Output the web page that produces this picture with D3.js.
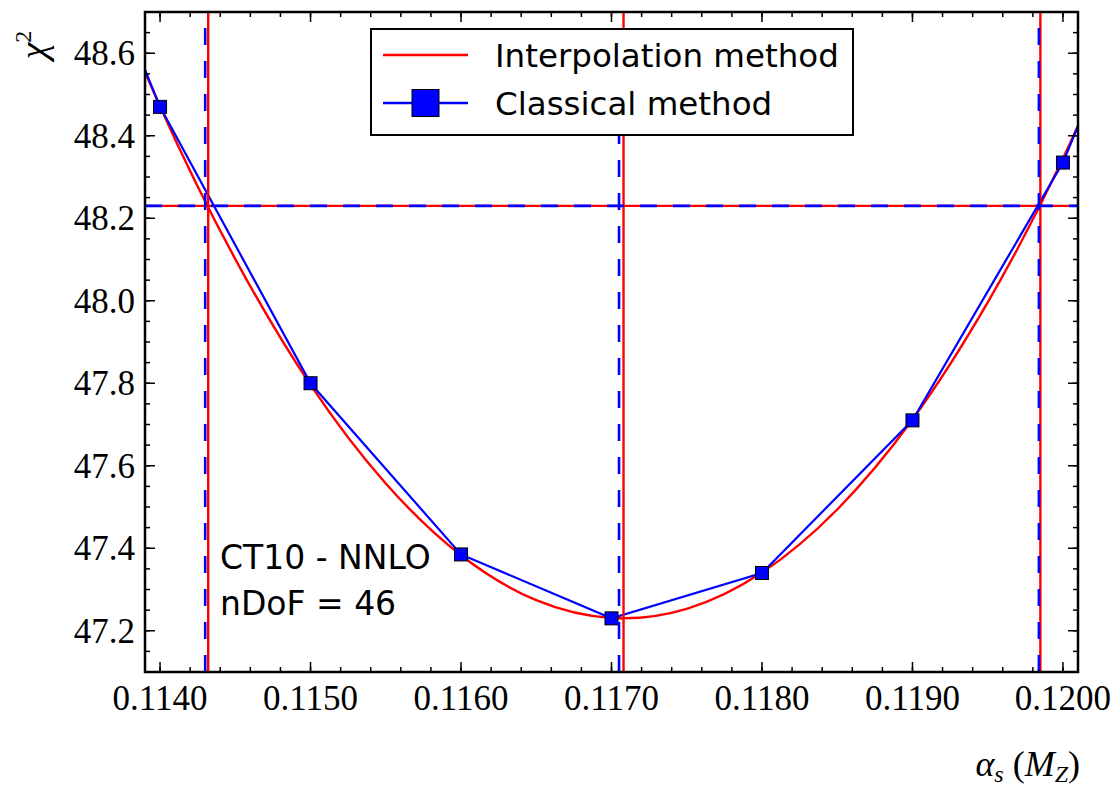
<!DOCTYPE html>
<html>
<head>
<meta charset="utf-8">
<script src="https://cdn.jsdelivr.net/npm/d3@7"></script>
<style>
  body { margin: 0; background: #fff; }
  svg { display: block; }
</style>
</head>
<body>
<div class="chart"></div>
<script>
// classical method: chi2 scan points (outer two fall outside the axes)
var classicalAlpha = [0.1130, 0.1140, 0.1150, 0.1160, 0.1170, 0.1180, 0.1190, 0.1200, 0.1210];
var classicalChi2 = [49.37, 48.47, 47.80, 47.385, 47.23, 47.34, 47.71, 48.335, 49.22];

// interpolation method: smooth curve
var interpAlpha = [0.1135, 0.1140, 0.1145, 0.1150, 0.1155, 0.1160, 0.1165, 0.1170,
  0.1175, 0.1180, 0.1185, 0.1190, 0.1195, 0.1200, 0.1205];
var interpChi2 = [48.907, 48.471, 48.101, 47.796, 47.557, 47.383, 47.274, 47.231,
  47.253, 47.341, 47.494, 47.712, 47.996, 48.345, 48.760];

// best fit and 1-sigma bounds (chi2_min + 1)
var interpLines = [0.11432, 0.11708, 0.11985];
var classicalLines = [0.11430, 0.11705, 0.11984];
var chi2Plus1 = 48.23;

var xTicks = [0.1140, 0.1150, 0.1160, 0.1170, 0.1180, 0.1190, 0.1200];
var yTicks = [47.2, 47.4, 47.6, 47.8, 48.0, 48.2, 48.4, 48.6];
var legendLabels = ['Interpolation method', 'Classical method'];
var infoLines = ['CT10 - NNLO', 'nDoF = 46'];

var margin = { top: 12, right: 33, bottom: 116, left: 145 };
var W = 1111, H = 788;
var width = W - margin.left - margin.right;
var height = H - margin.top - margin.bottom;
var red = '#ff0000', blue = '#0000ff';
var serif = '"Liberation Serif", "DejaVu Serif", serif';
var sans = '"DejaVu Sans", sans-serif';

var svg = d3.select('.chart')
  .append('svg')
  .attr('width', W)
  .attr('height', H)
  .append('g')
  .attr('transform', `translate(${margin.left}, ${margin.top})`);

var xScale = d3.scaleLinear().domain([0.1139, 0.1201]).range([0, width]);
var yScale = d3.scaleLinear().domain([47.1, 48.7]).range([height, 0]);

svg.append('clipPath').attr('id', 'clip')
  .append('rect').attr('width', width).attr('height', height);

var plot = svg.append('g').attr('clip-path', 'url(#clip)');

// interpolation curve
var curve = d3.line()
  .x((d, i) => xScale(interpAlpha[i]))
  .y(d => yScale(d))
  .curve(d3.curveNatural);
plot.append('path')
  .attr('d', curve(interpChi2))
  .style('fill', 'none')
  .style('stroke', red)
  .style('stroke-width', 2.4);

// classical polyline + markers
var poly = d3.line()
  .x((d, i) => xScale(classicalAlpha[i]))
  .y(d => yScale(d));
plot.append('path')
  .attr('d', poly(classicalChi2))
  .style('fill', 'none')
  .style('stroke', blue)
  .style('stroke-width', 2.2);

var ms = 13;
plot.selectAll('.pt')
  .data(classicalChi2)
  .enter()
  .append('rect')
  .attr('class', 'pt')
  .attr('x', (d, i) => xScale(classicalAlpha[i]) - ms / 2)
  .attr('y', d => yScale(d) - ms / 2)
  .attr('width', ms)
  .attr('height', ms)
  .style('fill', blue)
  .style('stroke', '#000')
  .style('stroke-width', 1);

// red solid reference lines
plot.append('line')
  .attr('x1', 0).attr('x2', width)
  .attr('y1', yScale(chi2Plus1)).attr('y2', yScale(chi2Plus1))
  .style('stroke', red).style('stroke-width', 2.4);
plot.selectAll('.vred')
  .data(interpLines)
  .enter()
  .append('line')
  .attr('x1', d => xScale(d)).attr('x2', d => xScale(d))
  .attr('y1', 0).attr('y2', height)
  .style('stroke', red).style('stroke-width', 2.4);

// blue dashed reference lines
plot.append('line')
  .attr('x1', 0).attr('x2', width)
  .attr('y1', yScale(chi2Plus1)).attr('y2', yScale(chi2Plus1))
  .style('stroke', blue).style('stroke-width', 2.6)
  .style('stroke-dasharray', '17,16');
plot.selectAll('.vblue')
  .data(classicalLines)
  .enter()
  .append('line')
  .attr('x1', d => xScale(d)).attr('x2', d => xScale(d))
  .attr('y1', height).attr('y2', 0)
  .style('stroke', blue).style('stroke-width', 2.6)
  .style('stroke-dasharray', '17,16');

// ticks on all four sides, pointing inward
var xMinor = d3.range(0.1140, 0.12011, 0.0002);
var yMinor = d3.range(47.1, 48.701, 0.05);
var tickG = svg.append('g').style('stroke', '#000').style('stroke-width', 1.5);
function xTick(v, len) {
  var x = xScale(v);
  tickG.append('line').attr('x1', x).attr('x2', x).attr('y1', height).attr('y2', height - len);
  tickG.append('line').attr('x1', x).attr('x2', x).attr('y1', 0).attr('y2', len);
}
function yTick(v, len) {
  var y = yScale(v);
  tickG.append('line').attr('x1', 0).attr('x2', len).attr('y1', y).attr('y2', y);
  tickG.append('line').attr('x1', width).attr('x2', width - len).attr('y1', y).attr('y2', y);
}
xMinor.forEach(v => xTick(v, 5));
xTicks.forEach(v => xTick(v, 10));
yMinor.forEach(v => yTick(v, 5));
yTicks.forEach(v => yTick(v, 10));

// tick labels
svg.selectAll('.xl')
  .data(xTicks)
  .enter()
  .append('text')
  .attr('x', d => xScale(d))
  .attr('y', height + 38)
  .attr('text-anchor', 'middle')
  .style('font-family', serif)
  .style('font-size', '35px')
  .text(d => d3.format('.4f')(d));

svg.selectAll('.yl')
  .data(yTicks)
  .enter()
  .append('text')
  .attr('x', -10)
  .attr('y', d => yScale(d) + 12)
  .attr('text-anchor', 'end')
  .style('font-family', serif)
  .style('font-size', '35px')
  .text(d => d3.format('.1f')(d));

// frame
svg.append('rect')
  .attr('width', width)
  .attr('height', height)
  .style('fill', 'none')
  .style('stroke', '#000')
  .style('stroke-width', 2.5);

// axis titles
var xt = svg.append('text')
  .attr('x', width + 2)
  .attr('y', height + 104)
  .attr('text-anchor', 'end')
  .style('font-family', serif)
  .style('font-size', '36px')
  .style('font-style', 'italic');
xt.append('tspan').text('α');
xt.append('tspan').attr('dy', 6).style('font-size', '24px').text('s');
xt.append('tspan').attr('dy', -6).style('font-style', 'normal').text(' (');
xt.append('tspan').text('M');
xt.append('tspan').attr('dy', 6).style('font-size', '24px').text('Z');
xt.append('tspan').attr('dy', -6).style('font-style', 'normal').text(')');

var yt = svg.append('text')
  .attr('transform', `translate(${-99}, ${33}) rotate(-90)`)
  .attr('text-anchor', 'middle')
  .style('font-family', serif)
  .style('font-size', '38px')
  .style('font-style', 'italic');
yt.append('tspan').text('χ');
yt.append('tspan').attr('dy', -15).style('font-size', '24px').style('font-style', 'normal').text('2');

// info text
svg.selectAll('.info')
  .data(infoLines)
  .enter()
  .append('text')
  .attr('x', 75)
  .attr('y', (d, i) => 557 + i * 46)
  .style('font-family', sans)
  .style('font-size', '33px')
  .text(d => d);

// legend
var lg = svg.append('g').attr('transform', `translate(${371 - margin.left}, ${29 - margin.top})`);
lg.append('rect')
  .attr('width', 482)
  .attr('height', 106)
  .style('fill', '#fff')
  .style('stroke', '#000')
  .style('stroke-width', 2);
lg.selectAll('.lline')
  .data(legendLabels)
  .enter()
  .append('line')
  .attr('x1', 12).attr('x2', 97)
  .attr('y1', (d, i) => 26 + i * 48).attr('y2', (d, i) => 26 + i * 48)
  .style('stroke', (d, i) => [red, blue][i])
  .style('stroke-width', 2.4);
lg.append('rect')
  .attr('x', 54.5 - 13.5).attr('y', 74 - 13.5)
  .attr('width', 27).attr('height', 27)
  .style('fill', blue).style('stroke', '#000').style('stroke-width', 1);
lg.selectAll('.ltext')
  .data(legendLabels)
  .enter()
  .append('text')
  .attr('x', 124)
  .attr('y', (d, i) => 38 + i * 48)
  .style('font-family', sans)
  .style('font-size', '32.5px')
  .text(d => d);
</script>
</body>
</html>
